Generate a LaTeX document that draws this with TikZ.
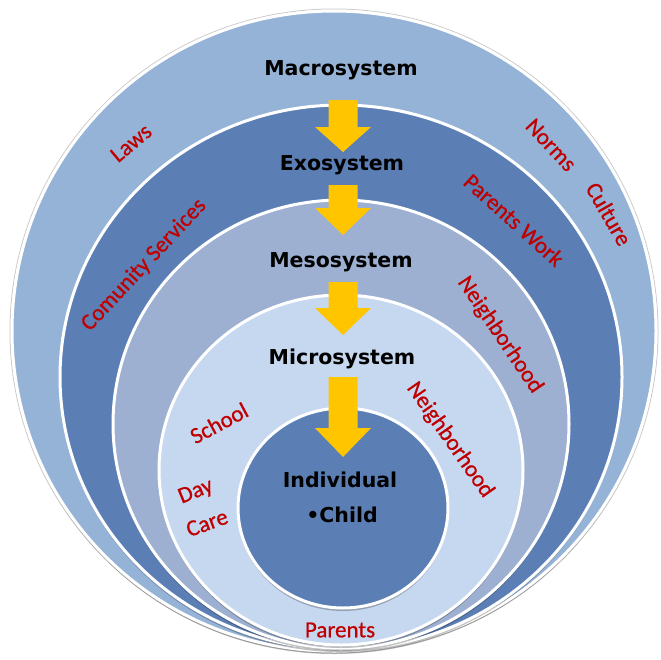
\documentclass[tikz,border=0pt]{standalone}
\usepackage{fontspec}
\setmainfont{Carlito}
\newfontfamily\sysfont{DejaVu Sans}
\newfontfamily\factorfont{Carlito}[FakeBold=0.7]
\definecolor{macroblue}{HTML}{95B3D7}
\definecolor{exoblue}{HTML}{5B7FB5}
\definecolor{mesoblue}{HTML}{9DB0D1}
\definecolor{microblue}{HTML}{C6D8F0}
\definecolor{factorred}{HTML}{C00000}
\definecolor{flowgold}{HTML}{FFC600}

\begin{document}
\begin{tikzpicture}[x=1pt, y=1pt,
    ring/.style={draw=white, line width=3pt,
      preaction={fill=black, opacity=.25, transform canvas={yshift=-3pt}}},
    sysname/.style={font={\sysfont\bfseries\fontsize{20.5}{24}\selectfont}, text=black, inner sep=0pt},
    factor/.style={font={\factorfont\fontsize{23}{27}\selectfont}, text=factorred, inner sep=0pt}]
  \useasboundingbox (0,0) rectangle (661,-659);
  \draw [gray!40, line width=1pt] (334,-331) ellipse [x radius=324, y radius=322]; % rim
  \filldraw [ring, fill=macroblue] (334,-331) ellipse [x radius=322, y radius=320]; % Macrosystem
  \filldraw [ring, fill=exoblue]   (341,-377) ellipse [x radius=281, y radius=272]; % Exosystem
  \filldraw [ring, fill=mesoblue]  (341,-424) ellipse [x radius=228, y radius=224]; % Mesosystem
  \filldraw [ring, fill=microblue] (341,-470) ellipse [x radius=182, y radius=175]; % Microsystem
  \filldraw [ring, fill=exoblue]   (343,-508) ellipse [x radius=105, y radius=100]; % Individual
  % yellow arrows, top / neck / tip
  \foreach \top/\neck/\tip in {100/127/152, 185/208/235, 282/308/335, 377/428/457}
    \fill [flowgold] (328.5,-\top) -- (357.5,-\top) -- (357.5,-\neck) -- (371,-\neck)
                     -- (343,-\tip) -- (315,-\neck) -- (328.5,-\neck) -- cycle;
  \node [sysname] (macro) at (341,-70)  {Macrosystem};           %
  \node [sysname] (exo)   at (342,-165) {Exosystem};             %
  \node [sysname] (meso)  at (341,-262) {Mesosystem};            %
  \node [sysname] (micro) at (342,-359) {Microsystem};           %
  \node [sysname] (indiv) at (340,-480) {Individual};            %
  \node [sysname] (child) at (342,-515) {•Child};                %
  \node [factor, rotate=40]  (laws)    at (131,-143) {Laws};              % macro
  \node [factor, rotate=-47] (norms)   at (551,-145) {Norms};             %
  \node [factor, rotate=-60] (culture) at (609,-214) {Culture};           %
  \node [factor, rotate=47]  (comserv) at (144,-265) {Comunity Services}; % exo
  \node [factor, rotate=-42] (parwork) at (514,-220) {Parents Work};      %
  \node [factor, rotate=-56] (neighA)  at (500,-335) {Neighborhood};      % meso
  \node [factor, rotate=-55] (neighB)  at (450,-440) {Neighborhood};      % micro
  \node [factor, rotate=28]  (school)  at (219,-423) {School};            %
  \node [factor, rotate=22]  (day)     at (196,-492) {Day};               %
  \node [factor, rotate=20]  (care)    at (207,-523) {Care};              %
  \node [factor]             (parents) at (340,-630) {Parents};           %
\end{tikzpicture}
\end{document}
